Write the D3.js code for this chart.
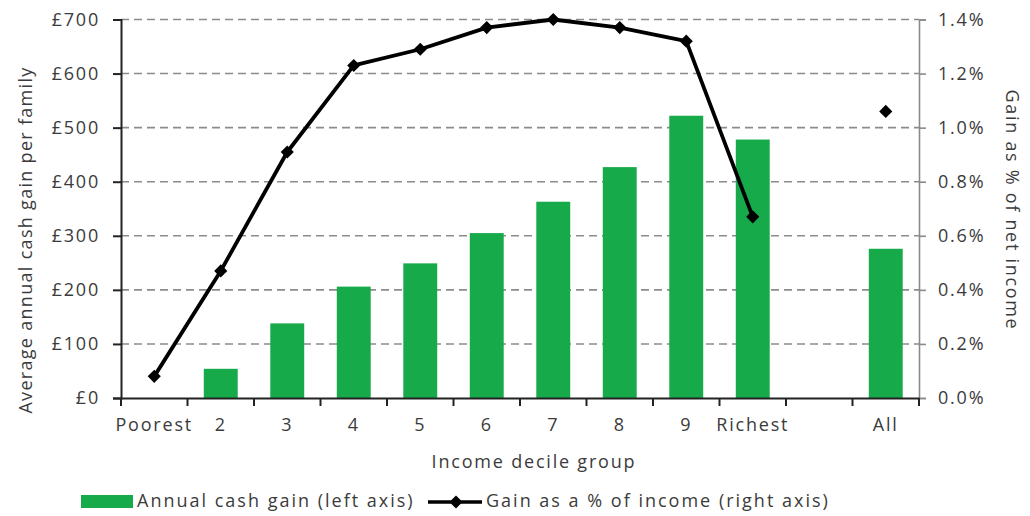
<!DOCTYPE html>
<html>
<head>
<meta charset="utf-8">
<script src="https://cdn.jsdelivr.net/npm/d3@7"></script>
<style>
  body { margin: 0; background: #fff; }
  #chart { width: 1030px; height: 516px; }
</style>
</head>
<body>
<div id="chart"></div>
<script>
// deciles, then a blank slot, then "All"
const deciles = ["Poorest", "2", "3", "4", "5", "6", "7", "8", "9", "Richest"];
const slots = [...deciles, "gap", "All"];
const cashGain = [0, 54, 138, 206, 249, 305, 363, 427, 522, 478];
const pctGain = [0.08, 0.47, 0.91, 1.23, 1.29, 1.37, 1.40, 1.37, 1.32, 0.67];
const allCash = 276;
const allPct = 1.06;
const leftTicks = [0, 100, 200, 300, 400, 500, 600, 700];
const rightTicks = [0, 0.2, 0.4, 0.6, 0.8, 1.0, 1.2, 1.4];

const width = 1030, height = 516;
const m = {top: 19.5, right: 111, bottom: 118, left: 121};
const textColor = '#3b3b3b';
const green = '#17aa4a';
const font = '"Open Sans", sans-serif';

const svg = d3.select('#chart')
    .append('svg')
    .attr('width', width)
    .attr('height', height)
    .style('font-family', font);

const x = d3.scaleBand()
    .domain(slots)
    .range([m.left, width - m.right])
    .paddingInner(0.49)
    .paddingOuter(0.245);

const yL = d3.scaleLinear().domain([0, 700]).range([height - m.bottom, m.top]);
const yR = d3.scaleLinear().domain([0, 1.4]).range([height - m.bottom, m.top]);

// gridlines
svg.append('g')
    .selectAll('line')
    .data(leftTicks.slice(1))
    .join('line')
    .attr('x1', m.left)
    .attr('x2', width - m.right)
    .attr('y1', d => yL(d))
    .attr('y2', d => yL(d))
    .attr('stroke', '#8c8c8c')
    .attr('stroke-width', 1.6)
    .attr('stroke-dasharray', '8,5');

// bars
const barData = deciles.map((d, i) => ({cat: d, v: cashGain[i]}));
barData.push({cat: 'All', v: allCash});

svg.append('g')
    .selectAll('rect')
    .data(barData)
    .join('rect')
    .attr('x', d => x(d.cat))
    .attr('width', x.bandwidth())
    .attr('y', d => yL(d.v))
    .attr('height', d => yL(0) - yL(d.v))
    .attr('fill', green);

// axes
const leftAxis = svg.append('g')
    .attr('transform', `translate(${m.left},0)`)
    .call(d3.axisLeft(yL).tickValues(leftTicks).tickSize(8).tickPadding(13)
        .tickFormat(d => '£' + d));
leftAxis.select('.domain').attr('stroke', '#222').attr('stroke-width', 2);
leftAxis.selectAll('.tick line').attr('stroke', '#222').attr('stroke-width', 2);

const rightAxis = svg.append('g')
    .attr('transform', `translate(${width - m.right},0)`)
    .call(d3.axisRight(yR).tickValues(rightTicks).tickSize(7).tickPadding(12)
        .tickFormat(d => d.toFixed(1) + '%'));
rightAxis.select('.domain').attr('stroke', '#8a8a8a').attr('stroke-width', 1.6);
rightAxis.selectAll('.tick line').attr('stroke', '#8a8a8a').attr('stroke-width', 1.6);

const bottomAxis = svg.append('g')
    .attr('transform', `translate(0,${height - m.bottom})`)
    .call(d3.axisBottom(x).tickSize(0).tickPadding(20)
        .tickFormat(d => d === 'gap' ? '' : d));
bottomAxis.select('.domain').attr('stroke', '#222').attr('stroke-width', 2.2);

// tick marks at the category boundaries
const step = x.step();
const bounds = slots.map((s, i) => m.left + i * step);
bounds.push(width - m.right);
svg.append('g')
    .selectAll('line')
    .data(bounds)
    .join('line')
    .attr('x1', d => d)
    .attr('x2', d => d)
    .attr('y1', height - m.bottom)
    .attr('y2', height - m.bottom + 8)
    .attr('stroke', '#222')
    .attr('stroke-width', 2);

svg.selectAll('.tick text')
    .attr('fill', textColor)
    .style('font-size', '18px')
    .style('letter-spacing', '1.8px')
    .style('font-family', font);

// line with diamond markers
const lineData = deciles.map((d, i) => ({cat: d, v: pctGain[i]}));
const cx = d => x(d.cat) + x.bandwidth() / 2;

svg.append('path')
    .datum(lineData)
    .attr('fill', 'none')
    .attr('stroke', '#000')
    .attr('stroke-width', 3.8)
    .attr('stroke-linejoin', 'round')
    .attr('d', d3.line().x(d => cx(d)).y(d => yR(d.v)));

const diamond = d3.symbol().type(d3.symbolDiamond2).size(110);
svg.append('g')
    .selectAll('path')
    .data([...lineData, {cat: 'All', v: allPct}])
    .join('path')
    .attr('transform', d => `translate(${cx(d)},${yR(d.v)})`)
    .attr('d', diamond)
    .attr('fill', '#000');

// axis titles
svg.append('text')
    .attr('transform', `translate(27,240) rotate(-90)`)
    .attr('text-anchor', 'middle')
    .attr('dominant-baseline', 'middle')
    .attr('fill', textColor)
    .style('font-size', '18px')
    .style('letter-spacing', '1.3px')
    .text('Average annual cash gain per family');

svg.append('text')
    .attr('transform', `translate(1011,210) rotate(90)`)
    .attr('text-anchor', 'middle')
    .attr('dominant-baseline', 'middle')
    .attr('fill', textColor)
    .style('font-size', '18px')
    .style('letter-spacing', '1.7px')
    .text('Gain as % of net income');

svg.append('text')
    .attr('x', 534)
    .attr('y', 468)
    .attr('text-anchor', 'middle')
    .attr('fill', textColor)
    .style('font-size', '18px')
    .style('letter-spacing', '1.8px')
    .text('Income decile group');

// legend
const legend = svg.append('g').attr('transform', 'translate(0,502)');
legend.append('rect')
    .attr('x', 81).attr('y', -7).attr('width', 52).attr('height', 13)
    .attr('fill', green);
legend.append('text')
    .attr('x', 137).attr('y', 0)
    .attr('dominant-baseline', 'middle')
    .attr('fill', textColor)
    .style('font-size', '18px')
    .style('letter-spacing', '2px')
    .text('Annual cash gain (left axis)');
legend.append('line')
    .attr('x1', 428).attr('x2', 482).attr('y1', 0).attr('y2', 0)
    .attr('stroke', '#000').attr('stroke-width', 3.5);
legend.append('path')
    .attr('transform', 'translate(456,0)')
    .attr('d', diamond)
    .attr('fill', '#000');
legend.append('text')
    .attr('x', 486).attr('y', 0)
    .attr('dominant-baseline', 'middle')
    .attr('fill', textColor)
    .style('font-size', '18px')
    .style('letter-spacing', '2px')
    .text('Gain as a % of income (right axis)');
</script>
</body>
</html>
